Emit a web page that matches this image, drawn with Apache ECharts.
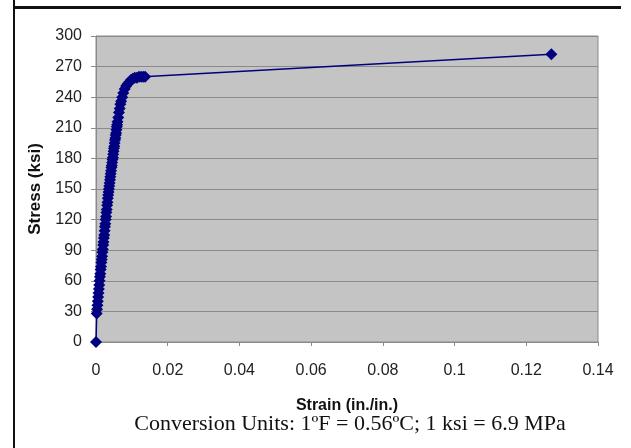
<!DOCTYPE html>
<html>
<head>
<meta charset="utf-8">
<script src="https://cdn.jsdelivr.net/npm/echarts@6/dist/echarts.min.js"></script>
<style>
html,body{margin:0;padding:0;background:#fff;}
#chart{width:631px;height:448px;}
</style>
</head>
<body>
<div id="chart"></div>
<script>
// Strain (in./in.) and Stress (ksi) readings
const strain = [0, 0.0002, 0.0003, 0.0004, 0.0005, 0.0006, 0.0007, 0.0008, 0.0009, 0.0010, 0.0011, 0.0012, 0.0013, 0.0014, 0.0015, 0.0016, 0.0017, 0.0018, 0.0019, 0.0020, 0.0021, 0.0022, 0.0023, 0.0024, 0.0025, 0.0026, 0.0027, 0.0028, 0.0029, 0.0030, 0.0031, 0.0032, 0.0033, 0.0034, 0.0035, 0.0036, 0.0037, 0.0038, 0.0039, 0.0040, 0.0041, 0.0042, 0.0043, 0.0044, 0.0045, 0.0046, 0.0047, 0.0048, 0.0049, 0.0050, 0.0051, 0.0052, 0.0053, 0.0054, 0.0055, 0.0056, 0.0057, 0.0058, 0.0059, 0.0060, 0.0062, 0.0064, 0.0066, 0.0068, 0.0070, 0.0073, 0.0076, 0.0080, 0.0084, 0.0088, 0.0093, 0.0098, 0.0103, 0.0108, 0.0114, 0.0120, 0.0126, 0.0132, 0.0137, 0.1270];
const stress = [0, 28, 32, 36, 40, 44, 48, 52, 56, 60, 64, 67, 71, 74, 78, 81, 84, 88, 91, 95, 98, 102, 105, 109, 113, 116, 120, 123, 127, 130, 134, 137, 141, 144, 147, 150, 153, 156, 159, 162, 165, 168, 171, 173, 176, 179, 181, 184, 187, 190, 192, 195, 198, 200, 203, 205, 208, 211, 213, 216, 220, 225, 229, 233, 236, 240, 244, 248, 251, 253, 255, 257, 258, 259, 259, 260, 260, 260, 260, 282];
const yTicks = [0, 30, 60, 90, 120, 150, 180, 210, 240, 270, 300];
const xTicks = [0, 0.02, 0.04, 0.06, 0.08, 0.1, 0.12, 0.14];
const xTitle = 'Strain (in./in.)';
const yTitle = 'Stress (ksi)';
const caption = 'Conversion Units: 1ºF = 0.56ºC; 1 ksi = 6.9 MPa';

const data = strain.map((s, i) => [s, stress[i]]);
const chart = echarts.init(document.getElementById('chart'), null, {renderer: 'canvas'});
const sans = 'Liberation Sans, Arial, sans-serif';
chart.setOption({
  animation: false,
  backgroundColor: '#ffffff',
  grid: {left: 96, right: 33, top: 36, bottom: 106, show: true, backgroundColor: '#c4c4c4', borderColor: '#8a8a8a', borderWidth: 1},
  xAxis: {
    type: 'value', min: xTicks[0], max: xTicks[xTicks.length - 1], interval: 0.02,
    name: xTitle, nameLocation: 'middle', nameGap: 56,
    nameTextStyle: {fontFamily: sans, fontWeight: 'bold', fontSize: 16, color: '#111'},
    axisLine: {show: true, lineStyle: {color: '#8a8a8a'}},
    axisTick: {show: true, length: 4, lineStyle: {color: '#8a8a8a'}},
    splitLine: {show: false},
    axisLabel: {fontFamily: sans, fontSize: 16, color: '#222', margin: 21,
      formatter: v => String(+v.toFixed(2))}
  },
  yAxis: {
    type: 'value', min: yTicks[0], max: yTicks[yTicks.length - 1], interval: 30,
    name: yTitle, nameLocation: 'middle', nameGap: 52, nameRotate: 90,
    nameTextStyle: {fontFamily: sans, fontWeight: 'bold', fontSize: 17, color: '#111'},
    axisLine: {show: true, lineStyle: {color: '#8a8a8a'}},
    axisTick: {show: true, length: 5, lineStyle: {color: '#8a8a8a'}},
    splitLine: {show: true, lineStyle: {color: '#8a8a8a', width: 1}},
    axisLabel: {fontFamily: sans, fontSize: 16, color: '#222', margin: 14}
  },
  graphic: [
    {type: 'line', shape: {x1: 14, y1: 0, x2: 14, y2: 448}, style: {stroke: '#111', lineWidth: 2}},
    {type: 'line', shape: {x1: 13, y1: 7.5, x2: 621, y2: 7.5}, style: {stroke: '#111', lineWidth: 3}},
    {type: 'text', x: 350, y: 413, style: {text: caption, align: 'center', fontFamily: 'Liberation Serif, Times New Roman, serif', fontSize: 22, fill: '#111'}}
  ],
  series: [{
    type: 'line', data: data, symbol: 'diamond', symbolSize: 12,
    lineStyle: {color: '#000080', width: 1.5},
    itemStyle: {color: '#000080'}
  }]
});
</script>
</body>
</html>
